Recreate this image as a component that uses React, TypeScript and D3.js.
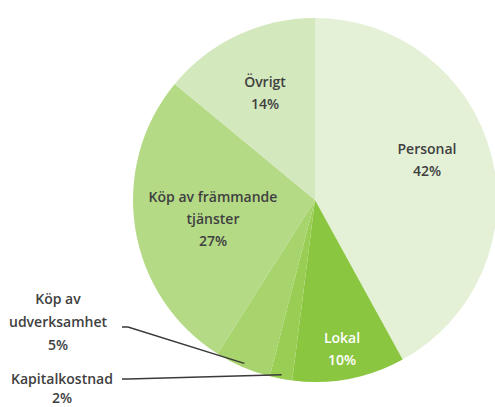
import React from 'react';
import * as d3 from 'd3';

const categories = ['Personal', 'Lokal', 'Kapitalkostnad', 'Köp av udverksamhet', 'Köp av främmande tjänster', 'Övrigt'];
const values = [42, 10, 2, 5, 27, 14];
const labelLines = [
  ['Personal', '42%'],
  ['Lokal', '10%'],
  ['Kapitalkostnad', '2%'],
  ['Köp av', 'udverksamhet', '5%'],
  ['Köp av främmande', 'tjänster', '27%'],
  ['Övrigt', '14%'],
];
const colors = ['#e4f1d7', '#8bc641', '#99cd54', '#a7d46c', '#b4da86', '#d4e8bd'];

const width = 495;
const height = 407;
const cx = 315;
const cy = 200;
const radius = 182;

// label anchor (centre of first line) and whether it sits outside with a leader line
const labelPos: [number, number][] = [
  [427, 154],
  [342, 343],
  [62, 384],
  [58, 304],
  [213, 202],
  [265, 87],
];
const lineGaps = [22, 22, 19, 23, 22, 22];
const leaderStart: ([number, number] | null)[] = [null, null, [122, 379], [122, 327], null, null];

export default function App() {
  const pie = d3.pie<number>().sort(null).value(d => d);
  const arcs = pie(values);
  const arc = d3.arc<d3.PieArcDatum<number>>().innerRadius(0).outerRadius(radius);

  return (
    <svg width={width} height={height} style={{ position: 'absolute', left: 0, top: 0, background: '#fff' }}
      fontFamily="'Open Sans', Lato, sans-serif">
      <g transform={`translate(${cx},${cy})`}>
        {arcs.map((a, i) => (
          <path key={categories[i]} d={arc(a) || ''} fill={colors[i]} />
        ))}
      </g>
      {arcs.map((a, i) => {
        const s = leaderStart[i];
        if (!s) return null;
        const mid = (a.startAngle + a.endAngle) / 2;
        const r = radius - 4;
        const ex = cx + Math.sin(mid) * r;
        const ey = cy - Math.cos(mid) * r;
        const pts: [number, number][] = [s, [s[0] + 6, s[1]], [ex, ey]];
        return (
          <path key={'l' + i} d={d3.line()(pts) || ''} fill="none" stroke="#3a3a3a" strokeWidth={1.5} />
        );
      })}
      {labelLines.map((lines, i) => (
        <text key={'t' + i} textAnchor="middle" fontSize={14} fontWeight={600}
          fill={i === 1 ? '#ffffff' : '#404040'}>
          {lines.map((ln, j) => (
            <tspan key={j} x={labelPos[i][0]} y={labelPos[i][1] + j * lineGaps[i]}>{ln}</tspan>
          ))}
        </text>
      ))}
    </svg>
  );
}
